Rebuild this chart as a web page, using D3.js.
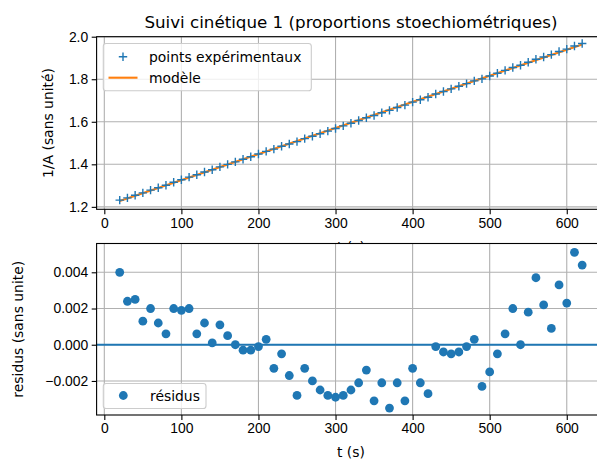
<!DOCTYPE html>
<html>
<head>
<meta charset="utf-8">
<script src="https://cdn.jsdelivr.net/npm/d3@7"></script>
<style>
  body { margin: 0; background: #fff; }
  svg { display: block; font-family: "DejaVu Sans", sans-serif; }
</style>
</head>
<body>
<script>
const times = [20, 30, 40, 50, 60, 70, 80, 90, 100, 110, 120, 130, 140, 150, 160, 170, 180, 190, 200, 210,
  220, 230, 240, 250, 260, 270, 280, 290, 300, 310, 320, 330, 340, 350, 360, 370, 380, 390, 400, 410,
  420, 430, 440, 450, 460, 470, 480, 490, 500, 510, 520, 530, 540, 550, 560, 570, 580, 590, 600, 610, 620];

const invA = [1.2315, 1.2422, 1.2545, 1.2656, 1.2786, 1.2900, 1.3017, 1.3154, 1.3276, 1.3399,
  1.3508, 1.3637, 1.3748, 1.3881, 1.3998, 1.4115, 1.4235, 1.4358, 1.4483, 1.4609,
  1.4716, 1.4847, 1.4957, 1.5069, 1.5207, 1.5322, 1.5440, 1.5560, 1.5682, 1.5805,
  1.5931, 1.6058, 1.6187, 1.6293, 1.6426, 1.6534, 1.6671, 1.6784, 1.6925, 1.7039,
  1.7156, 1.7305, 1.7424, 1.7546, 1.7670, 1.7795, 1.7922, 1.8019, 1.8150, 1.8282,
  1.8416, 1.8553, 1.8655, 1.8796, 1.8938, 1.9045, 1.9155, 1.9302, 1.9415, 1.9565, 1.9681];

const residus = [0.0040, 0.0024, 0.0025, 0.0013, 0.0020, 0.0012, 0.0006, 0.0020, 0.0019, 0.0020,
  0.0006, 0.0012, 0.0001, 0.0011, 0.0005, 0.0000, -0.0003, -0.0003, -0.0001, 0.0003,
  -0.0013, -0.0005, -0.0017, -0.0028, -0.0013, -0.0020, -0.0025, -0.0028, -0.0029, -0.0028,
  -0.0025, -0.0021, -0.0014, -0.0031, -0.0021, -0.0035, -0.0021, -0.0031, -0.0013, -0.0021,
  -0.0027, -0.0001, -0.0004, -0.0005, -0.0004, -0.0001, 0.0003, -0.0023, -0.0015, -0.0005,
  0.0006, 0.0020, 0.0000, 0.0018, 0.0037, 0.0022, 0.0009, 0.0033, 0.0023, 0.0051, 0.0044];

// droite du modèle (extrémités)
const modelT = [20, 620];
const modelY = [1.2275, 1.9637];

const xTicks = [0, 100, 200, 300, 400, 500, 600];
const yTicksTop = [1.2, 1.4, 1.6, 1.8, 2.0];
const yTicksBottom = [-0.002, 0, 0.002, 0.004];

const blue = "#1f77b4";
const orange = "#ff7f0e";
const width = 597, height = 459;
const left = 96.6, right = 605.3;
const topBox = { y0: 36.7, y1: 209.3 };
const botBox = { y0: 243.5, y1: 415 };

const svg = d3.select("body").append("svg")
  .attr("width", width)
  .attr("height", height);

const x = d3.scaleLinear().domain([-10, 650]).range([left, right]);
const yTop = d3.scaleLinear().domain([1.1885, 2.0]).range([topBox.y1, topBox.y0]);
const yBot = d3.scaleLinear().domain([-0.00388, 0.00559]).range([botBox.y1, botBox.y0]);

function styleAxis(g) {
  g.select(".domain").remove();
  g.selectAll(".tick line").attr("stroke", "#000").attr("stroke-width", 1.1);
  g.selectAll(".tick text").attr("fill", "#000").style("font-size", "13.9px");
}

function drawFrame(y, box, yTicks, yFmt) {
  const g = svg.append("g");
  g.append("rect")
    .attr("x", left).attr("y", box.y0)
    .attr("width", right - left).attr("height", box.y1 - box.y0)
    .attr("fill", "#fff");
  // grille
  g.selectAll(".gx").data(xTicks).enter().append("line")
    .attr("x1", d => x(d)).attr("x2", d => x(d))
    .attr("y1", box.y0).attr("y2", box.y1)
    .attr("stroke", "#b0b0b0").attr("stroke-width", 1.1);
  g.selectAll(".gy").data(yTicks).enter().append("line")
    .attr("x1", left).attr("x2", right)
    .attr("y1", d => y(d)).attr("y2", d => y(d))
    .attr("stroke", "#b0b0b0").attr("stroke-width", 1.1);
  g.append("g")
    .attr("transform", `translate(0,${box.y1})`)
    .call(d3.axisBottom(x).tickValues(xTicks).tickFormat(d3.format("d")).tickSize(4.9).tickPadding(3.5))
    .call(styleAxis);
  g.append("g")
    .attr("transform", `translate(${left},0)`)
    .call(d3.axisLeft(y).tickValues(yTicks).tickFormat(yFmt).tickSize(4.9).tickPadding(3.5))
    .call(styleAxis);
  return g;
}

function drawSpines(box) {
  svg.append("rect")
    .attr("x", left).attr("y", box.y0)
    .attr("width", right - left).attr("height", box.y1 - box.y0)
    .attr("fill", "none").attr("stroke", "#000").attr("stroke-width", 1.1);
}

// ---- graphe du haut ----
drawFrame(yTop, topBox, yTicksTop, d3.format(".1f"));

const line = d3.line().x(d => x(d[0])).y(d => yTop(d[1]));
svg.append("path")
  .datum(modelT.map((t, i) => [t, modelY[i]]))
  .attr("d", line)
  .attr("fill", "none").attr("stroke", orange).attr("stroke-width", 2.1);

const plus = d3.symbol().type(d3.symbolCross);
svg.selectAll(".pt").data(times).enter().append("path")
  .attr("d", (d, i) => `M${x(d) - 4.2},${yTop(invA[i])}h8.4M${x(d)},${yTop(invA[i]) - 4.2}v8.4`)
  .attr("stroke", blue).attr("stroke-width", 1.4).attr("fill", "none");

drawSpines(topBox);

svg.append("text")
  .attr("x", (left + right) / 2).attr("y", 27.5)
  .attr("text-anchor", "middle")
  .style("font-size", "16.7px")
  .text("Suivi cinétique 1 (proportions stoechiométriques)");

svg.append("text")
  .attr("transform", `translate(53,${(topBox.y0 + topBox.y1) / 2}) rotate(-90)`)
  .attr("text-anchor", "middle")
  .style("font-size", "13.9px")
  .text("1/A (sans unité)");

svg.append("text")
  .attr("x", (left + right) / 2).attr("y", 252)
  .attr("text-anchor", "middle")
  .style("font-size", "13.9px")
  .text("t (s)");

// légende du haut
const lg = svg.append("g");
lg.append("rect")
  .attr("x", 103.3).attr("y", 43.5).attr("width", 208).attr("height", 47.3)
  .attr("rx", 2.8).attr("fill", "#fff").attr("fill-opacity", 0.8)
  .attr("stroke", "#cccccc").attr("stroke-width", 1.1);
lg.append("path")
  .attr("d", "M118.8,56.7h8.4M123,52.5v8.4")
  .attr("stroke", blue).attr("stroke-width", 1.4);
lg.append("text").attr("x", 149).attr("y", 61.5).style("font-size", "13.9px").text("points expérimentaux");
lg.append("line")
  .attr("x1", 108.5).attr("x2", 137.5).attr("y1", 77.7).attr("y2", 77.7)
  .attr("stroke", orange).attr("stroke-width", 2.1);
lg.append("text").attr("x", 149).attr("y", 82.5).style("font-size", "13.9px").text("modèle");

// ---- graphe du bas ----
drawFrame(yBot, botBox, yTicksBottom, d => d3.format(".3f")(d));

svg.append("line")
  .attr("x1", left).attr("x2", right)
  .attr("y1", yBot(0)).attr("y2", yBot(0))
  .attr("stroke", blue).attr("stroke-width", 2.1);

svg.selectAll(".res").data(times).enter().append("circle")
  .attr("cx", d => x(d))
  .attr("cy", (d, i) => yBot(residus[i]))
  .attr("r", 4.4)
  .attr("fill", blue);

drawSpines(botBox);

svg.append("text")
  .attr("transform", `translate(23,${(botBox.y0 + botBox.y1) / 2}) rotate(-90)`)
  .attr("text-anchor", "middle")
  .style("font-size", "13.9px")
  .text("residus (sans unite)");

svg.append("text")
  .attr("x", (left + right) / 2).attr("y", 457)
  .attr("text-anchor", "middle")
  .style("font-size", "13.9px")
  .text("t (s)");

const lb = svg.append("g");
lb.append("rect")
  .attr("x", 103.3).attr("y", 383.5).attr("width", 102.7).attr("height", 25)
  .attr("rx", 2.8).attr("fill", "#fff").attr("fill-opacity", 0.8)
  .attr("stroke", "#cccccc").attr("stroke-width", 1.1);
lb.append("circle").attr("cx", 123.3).attr("cy", 395.5).attr("r", 4.4).attr("fill", blue);
lb.append("text").attr("x", 150).attr("y", 400.5).style("font-size", "13.9px").text("résidus");
</script>
</body>
</html>
